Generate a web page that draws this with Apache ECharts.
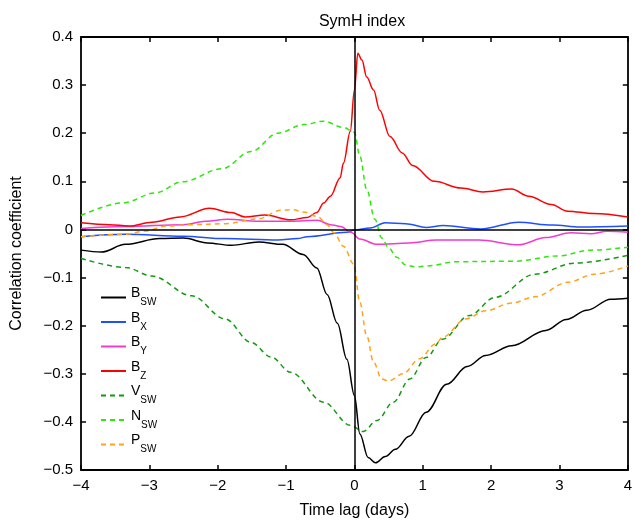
<!DOCTYPE html>
<html>
<head>
<meta charset="utf-8">
<script src="https://cdn.jsdelivr.net/npm/echarts@6/dist/echarts.min.js"></script>
<style>html,body{margin:0;padding:0;background:#fff}#c{width:635px;height:524px}</style>
</head>
<body>
<div id="c"></div>
<script>
const xTicks = [-4, -3, -2, -1, 0, 1, 2, 3, 4];
const yTicks = [-0.5, -0.4, -0.3, -0.2, -0.1, 0, 0.1, 0.2, 0.3, 0.4];

const bswLag = [-4, -3.7, -3.35, -2.85, -2.5, -2.15, -1.8, -1.4, -1.05, -0.75, -0.55, -0.4, -0.25, -0.11, 0, 0.08, 0.2, 0.31, 0.45, 0.6, 0.8, 1.05, 1.35, 1.65, 1.92, 2.3, 2.8, 3.1, 3.4, 3.75, 4];
const bswVal = [-0.043, -0.047, -0.031, -0.019, -0.018, -0.028, -0.033, -0.026, -0.031, -0.052, -0.08, -0.135, -0.195, -0.27, -0.345, -0.425, -0.474, -0.485, -0.472, -0.457, -0.43, -0.38, -0.322, -0.285, -0.262, -0.242, -0.21, -0.187, -0.168, -0.145, -0.143];

const bxLag = [-4, -3.35, -2.5, -1.9, -1.12, -0.83, -0.69, -0.11, 0, 0.23, 0.45, 0.75, 1.05, 1.3, 1.85, 2.4, 2.9, 3.3, 4];
const bxVal = [-0.015, -0.010, -0.014, -0.019, -0.022, -0.019, -0.015, -0.006, -0.001, 0.003, 0.014, 0.012, 0.004, 0.008, 0.001, 0.015, 0.009, 0.005, 0.007];

const byLag = [-4, -3.35, -2.5, -2.18, -1.85, -1.41, -0.93, -0.54, -0.35, -0.2, -0.05, 0.08, 0.33, 0.8, 1.2, 1.82, 2.4, 2.8, 3.17, 3.46, 3.7, 4];
const byVal = [0.002, 0.006, 0.010, 0.017, 0.021, 0.017, 0.017, 0.019, 0.010, 0.006, -0.006, -0.02, -0.031, -0.028, -0.022, -0.022, -0.032, -0.017, -0.007, -0.009, -0.004, -0.006];

const bzLag = [-4, -3.58, -3.3, -2.96, -2.55, -2.12, -1.8, -1.6, -1.31, -0.93, -0.69, -0.55, -0.45, -0.35, -0.21, -0.16, -0.06, 0, 0.05, 0.11, 0.18, 0.28, 0.37, 0.52, 0.7, 0.85, 1.17, 1.56, 1.88, 2.3, 2.55, 2.88, 3.12, 3.5, 4];
const bzVal = [0.014, 0.010, 0.007, 0.015, 0.026, 0.044, 0.035, 0.026, 0.030, 0.020, 0.025, 0.035, 0.055, 0.069, 0.107, 0.138, 0.204, 0.29, 0.366, 0.352, 0.317, 0.29, 0.248, 0.193, 0.159, 0.133, 0.100, 0.086, 0.078, 0.084, 0.069, 0.052, 0.038, 0.033, 0.026];

const vswLag = [-4, -3.35, -2.96, -2.38, -1.89, -1.51, -1.22, -0.93, -0.45, -0.06, 0.13, 0.33, 0.57, 0.81, 1.05, 1.29, 1.68, 2.06, 2.64, 3.22, 4];
const vswVal = [-0.060, -0.079, -0.097, -0.138, -0.186, -0.235, -0.265, -0.297, -0.359, -0.407, -0.420, -0.397, -0.359, -0.311, -0.266, -0.228, -0.179, -0.141, -0.093, -0.070, -0.054];

const nswLag = [-4, -3.39, -2.91, -2.52, -1.94, -1.51, -1.12, -0.74, -0.45, -0.16, 0, 0.08, 0.18, 0.3, 0.4, 0.5, 0.62, 0.75, 0.9, 1.05, 1.5, 2.35, 2.98, 3.46, 4];
const nswVal = [0.029, 0.055, 0.076, 0.099, 0.126, 0.162, 0.200, 0.218, 0.225, 0.212, 0.202, 0.152, 0.083, 0.021, -0.018, -0.038, -0.058, -0.074, -0.078, -0.076, -0.067, -0.066, -0.055, -0.043, -0.037];

const pswLag = [-4, -3.34, -3.05, -2.76, -2.38, -1.89, -1.41, -1.07, -0.9, -0.74, -0.54, -0.4, -0.3, -0.16, -0.01, 0.08, 0.18, 0.28, 0.4, 0.5, 0.71, 0.95, 1.19, 1.29, 1.63, 1.92, 2.3, 2.64, 3.12, 3.51, 4];
const pswVal = [-0.015, -0.010, -0.003, 0.007, 0.010, 0.012, 0.022, 0.040, 0.041, 0.036, 0.027, 0.010, -0.007, -0.035, -0.072, -0.152, -0.221, -0.276, -0.311, -0.315, -0.300, -0.269, -0.238, -0.224, -0.186, -0.169, -0.153, -0.140, -0.110, -0.093, -0.076];

const names = ['B_SW', 'B_X', 'B_Y', 'B_Z', 'V_SW', 'N_SW', 'P_SW'];
const subs = { B_SW: ['B', 'SW'], B_X: ['B', 'X'], B_Y: ['B', 'Y'], B_Z: ['B', 'Z'], V_SW: ['V', 'SW'], N_SW: ['N', 'SW'], P_SW: ['P', 'SW'] };

const FONT = 'Liberation Sans, Arial, Helvetica, sans-serif';
const fmtNum = v => {
  const r = Math.round(v * 10) / 10;
  if (Math.abs(r) < 1e-9) return '0';
  const s = Number.isInteger(r) ? String(Math.abs(r)) : Math.abs(r).toFixed(1);
  return (r < 0 ? '\u2212' : '') + s;
};
const zip = (a, b) => a.map((x, i) => [x, b[i]]);

function line(name, lag, val, color, dashed) {
  return {
    name, type: 'line', data: zip(lag, val), showSymbol: false, symbol: 'none',
    smooth: 0.35, smoothMonotone: 'x', xAxisIndex: 0, yAxisIndex: 0,
    lineStyle: { color, width: 1.5, type: dashed ? [5, 4] : 'solid' },
    itemStyle: { color }, silent: true
  };
}

const chart = echarts.init(document.getElementById('c'), null, { renderer: 'canvas' });
const axisLineStyle = { color: '#000', width: 1.8 };
const series = [
  line('B_SW', bswLag, bswVal, '#000000', false),
  line('B_X', bxLag, bxVal, '#1f50ff', false),
  line('B_Y', byLag, byVal, '#f23ad0', false),
  line('B_Z', bzLag, bzVal, '#ff0000', false),
  line('V_SW', vswLag, vswVal, '#139a13', true),
  line('N_SW', nswLag, nswVal, '#2ee80a', true),
  line('P_SW', pswLag, pswVal, '#ffa31a', true)
];
series[0].markLine = {
  silent: true, symbol: 'none', label: { show: false },
  lineStyle: { color: '#000', width: 1.5, type: 'solid' },
  data: [{ yAxis: 0 }, { xAxis: 0 }]
};

chart.setOption({
  animation: false,
  backgroundColor: '#fff',
  textStyle: { fontFamily: FONT },
  title: {
    text: 'SymH index', left: 357, top: 9, textAlign: 'center',
    textStyle: { fontFamily: FONT, fontSize: 16, fontWeight: 'normal', color: '#000' }
  },
  grid: { left: 81, right: 1, top: 37, bottom: 52, containLabel: false },
  legend: {
    data: names, orient: 'vertical', left: 100, top: 286.5, padding: 0,
    itemWidth: 25, itemHeight: 14, itemGap: 2.5, selectedMode: false,
    itemStyle: { opacity: 0, borderWidth: 0 },
    formatter: n => '{m|' + subs[n][0] + '}{s|' + subs[n][1] + '}',
    textStyle: {
      fontFamily: FONT, color: '#000',
      rich: {
        m: { fontSize: 14, fontFamily: FONT, color: '#000', lineHeight: 15, padding: [0, 0, 8, 0] },
        s: { fontSize: 10, fontFamily: FONT, color: '#000', lineHeight: 11, padding: [11, 0, 1, 0] }
      }
    }
  },
  xAxis: [{
    type: 'value', min: xTicks[0], max: xTicks[xTicks.length - 1], interval: 1, position: 'bottom',
    name: 'Time lag (days)', nameLocation: 'middle', nameGap: 33,
    nameTextStyle: { fontFamily: FONT, fontSize: 16, color: '#000' },
    axisLine: { onZero: false, lineStyle: axisLineStyle },
    axisTick: { inside: true, length: 5, lineStyle: { color: '#000', width: 1.5 } },
    axisLabel: { formatter: fmtNum, fontSize: 15, color: '#000', margin: 8, fontFamily: FONT },
    splitLine: { show: false }
  }, {
    type: 'value', min: xTicks[0], max: xTicks[xTicks.length - 1], interval: 1, position: 'top',
    axisLine: { onZero: false, lineStyle: axisLineStyle },
    axisTick: { inside: true, length: 5, lineStyle: { color: '#000', width: 1.5 } },
    axisLabel: { show: false }, splitLine: { show: false }
  }],
  yAxis: [{
    type: 'value', min: yTicks[0], max: yTicks[yTicks.length - 1], interval: 0.1, position: 'left',
    name: 'Correlation coefficient', nameLocation: 'middle', nameGap: 56, nameRotate: 90,
    nameTextStyle: { fontFamily: FONT, fontSize: 16, color: '#000' },
    axisLine: { onZero: false, lineStyle: axisLineStyle },
    axisTick: { inside: true, length: 5, lineStyle: { color: '#000', width: 1.5 } },
    axisLabel: { formatter: fmtNum, fontSize: 15, color: '#000', margin: 8, fontFamily: FONT },
    splitLine: { show: false }
  }, {
    type: 'value', min: yTicks[0], max: yTicks[yTicks.length - 1], interval: 0.1, position: 'right',
    axisLine: { onZero: false, lineStyle: axisLineStyle },
    axisTick: { inside: true, length: 5, lineStyle: { color: '#000', width: 1.5 } },
    axisLabel: { show: false }, splitLine: { show: false }
  }],
  series
});
</script>
</body>
</html>
